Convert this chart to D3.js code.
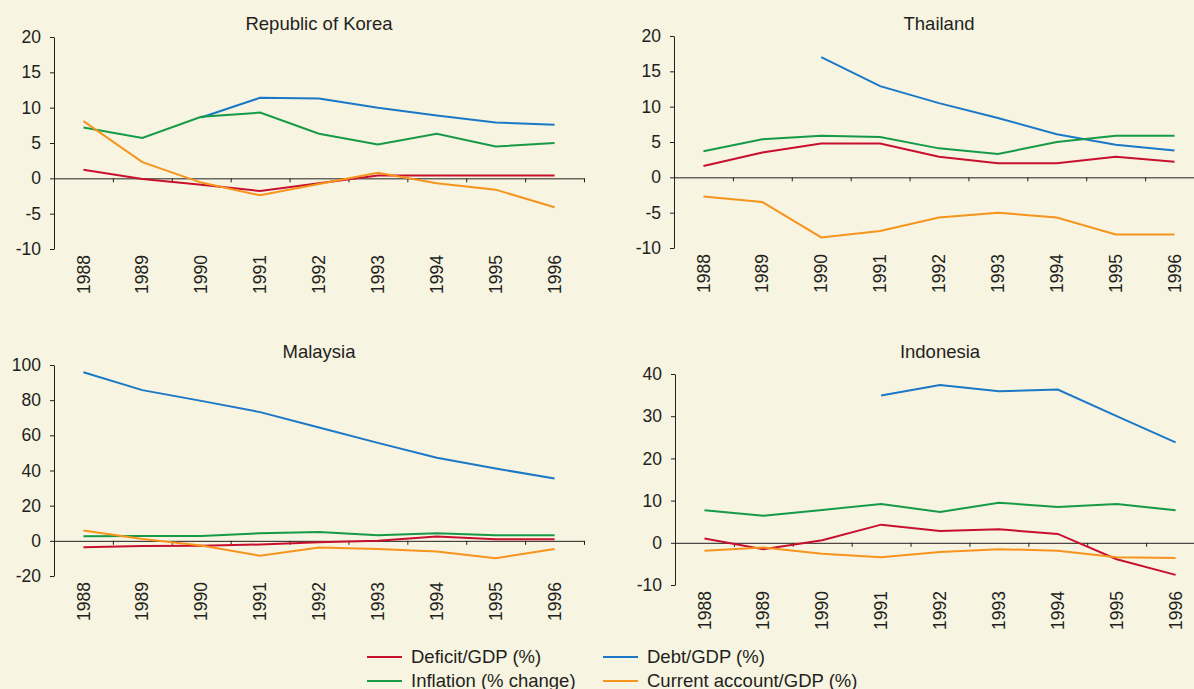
<!DOCTYPE html>
<html>
<head>
<meta charset="utf-8">
<script src="https://cdn.jsdelivr.net/npm/d3@7"></script>
<style>
body{margin:0;background:#f7f4e1;}
svg{display:block;font-family:"Liberation Sans",Arial,sans-serif;}
</style>
</head>
<body>
<div id="chart"></div>
<script>
// years on the x axis
var years = ["1988","1989","1990","1991","1992","1993","1994","1995","1996"];

var seriesNames = ["Deficit/GDP (%)","Debt/GDP (%)","Inflation (% change)","Current account/GDP (%)"];

// Republic of Korea
var korDeficit   = [1.2, -0.1, -0.9, -1.8, -0.7, 0.4, 0.4, 0.4, 0.4];
var korDebt      = [null, null, 8.6, 11.4, 11.3, 10.0, 8.9, 7.9, 7.6];
var korInflation = [7.2, 5.7, 8.7, 9.3, 6.3, 4.8, 6.3, 4.5, 5.0];
var korCurrent   = [8.1, 2.3, -0.6, -2.4, -0.8, 0.8, -0.7, -1.6, -4.1];

// Thailand
var thaDeficit   = [1.6, 3.5, 4.8, 4.8, 2.9, 2.0, 2.0, 2.9, 2.2];
var thaDebt      = [null, null, 17.0, 12.9, 10.5, 8.4, 6.1, 4.6, 3.8];
var thaInflation = [3.7, 5.4, 5.9, 5.7, 4.1, 3.3, 5.0, 5.9, 5.9];
var thaCurrent   = [-2.7, -3.5, -8.5, -7.6, -5.7, -5.0, -5.7, -8.1, -8.1];

// Malaysia
var malDeficit   = [-3.6, -3.0, -2.8, -2.1, -0.8, 0.0, 2.4, 0.9, 0.9];
var malDebt      = [95.9, 85.7, 79.6, 73.2, 64.5, 55.7, 47.2, 41.1, 35.5];
var malInflation = [2.6, 2.7, 2.7, 4.3, 5.0, 3.2, 4.3, 3.2, 3.2];
var malCurrent   = [5.9, 1.1, -2.6, -8.5, -3.8, -4.6, -6.1, -9.9, -4.6];

// Indonesia
var indDeficit   = [1.0, -1.5, 0.6, 4.3, 2.8, 3.2, 2.1, -3.9, -7.6];
var indDebt      = [null, null, null, 34.9, 37.4, 35.9, 36.3, 30.0, 23.8];
var indInflation = [7.7, 6.4, 7.8, 9.2, 7.3, 9.5, 8.5, 9.2, 7.7];
var indCurrent   = [-1.9, -1.1, -2.6, -3.4, -2.2, -1.5, -1.9, -3.4, -3.6];

var colors = ["#c8102e","#1a78c6","#179a47","#f7941d"];

var W = 1194, H = 689;

var svg = d3.select("#chart")
	.append("svg")
	.attr("width", W)
	.attr("height", H);

svg.append("rect").attr("width", W).attr("height", H).attr("fill", "#f7f4e1");

// panel boxes (plot area) + where the title sits
var panels = [
	{title:"Republic of Korea", x0:54,  x1:584,  y0:37,  y1:249, ty:30,  dom:[-10,20],  step:5,
		data:[korDeficit,korDebt,korInflation,korCurrent]},
	{title:"Thailand",          x0:674, x1:1204, y0:36,  y1:248, ty:30,  dom:[-10,20],  step:5,
		data:[thaDeficit,thaDebt,thaInflation,thaCurrent]},
	{title:"Malaysia",          x0:54,  x1:584,  y0:365, y1:576, ty:358, dom:[-20,100], step:20,
		data:[malDeficit,malDebt,malInflation,malCurrent]},
	{title:"Indonesia",         x0:675, x1:1205, y0:374, y1:585, ty:358, dom:[-10,40],  step:10,
		data:[indDeficit,indDebt,indInflation,indCurrent]}
];

panels.forEach(function(p){
	var g = svg.append("g");

	var x = d3.scaleBand().domain(years).range([p.x0, p.x1]);
	var xi = d3.scaleLinear().domain([0, years.length]).range([p.x0, p.x1]);
	var y = d3.scaleLinear().domain(p.dom).range([p.y1, p.y0]);

	g.append("text")
		.attr("x", (p.x0+p.x1)/2)
		.attr("y", p.ty)
		.attr("text-anchor","middle")
		.attr("font-size","18.5px")
		.attr("fill","#231f20")
		.text(p.title);

	// y axis (plain hyphen for negatives like the original)
	var ya = g.append("g")
		.attr("transform","translate("+p.x0+",0)")
		.call(d3.axisLeft(y)
			.tickValues(d3.range(p.dom[0], p.dom[1]+0.001, p.step))
			.tickFormat(d => String(d))
			.tickSize(4).tickPadding(9).tickSizeOuter(0));
	ya.selectAll("text").attr("font-size","17.5px").attr("fill","#231f20").attr("font-family",null);
	ya.selectAll("line,path").attr("stroke","#231f20");

	// x axis along zero with ticks between the years
	var xa = g.append("g")
		.attr("transform","translate(0,"+y(0)+")")
		.call(d3.axisBottom(xi)
			.tickValues(d3.range(1, years.length+1))
			.tickFormat("")
			.tickSize(4).tickSizeOuter(0));
	xa.selectAll("line,path").attr("stroke","#231f20");

	g.selectAll(".yr")
		.data(years)
		.enter()
		.append("text")
		.attr("transform", d => "translate("+(x(d)+x.bandwidth()/2)+","+(p.y1+6)+") rotate(-90)")
		.attr("text-anchor","end")
		.attr("dy","0.35em")
		.attr("font-size","17.5px")
		.attr("fill","#231f20")
		.text(d => d);

	var line = d3.line()
		.defined(d => d != null)
		.x((d,i) => x(years[i]) + x.bandwidth()/2)
		.y(d => y(d));

	p.data.forEach(function(s, k){
		g.append("path")
			.datum(s)
			.attr("d", line)
			.attr("fill","none")
			.attr("stroke", colors[k])
			.attr("stroke-width", 2);
	});
});

// legend, two columns two rows
var leg = svg.append("g");
var legX = [367, 603], legY = [657, 681];
seriesNames.forEach(function(n, i){
	var cx = legX[i%2], cy = legY[Math.floor(i/2)];
	leg.append("line")
		.attr("x1", cx).attr("x2", cx+35)
		.attr("y1", cy).attr("y2", cy)
		.attr("stroke", colors[i]).attr("stroke-width", 2);
	leg.append("text")
		.attr("x", cx+44).attr("y", cy)
		.attr("dy","0.35em")
		.attr("font-size","18.5px")
		.attr("fill","#231f20")
		.text(n);
});
</script>
</body>
</html>
